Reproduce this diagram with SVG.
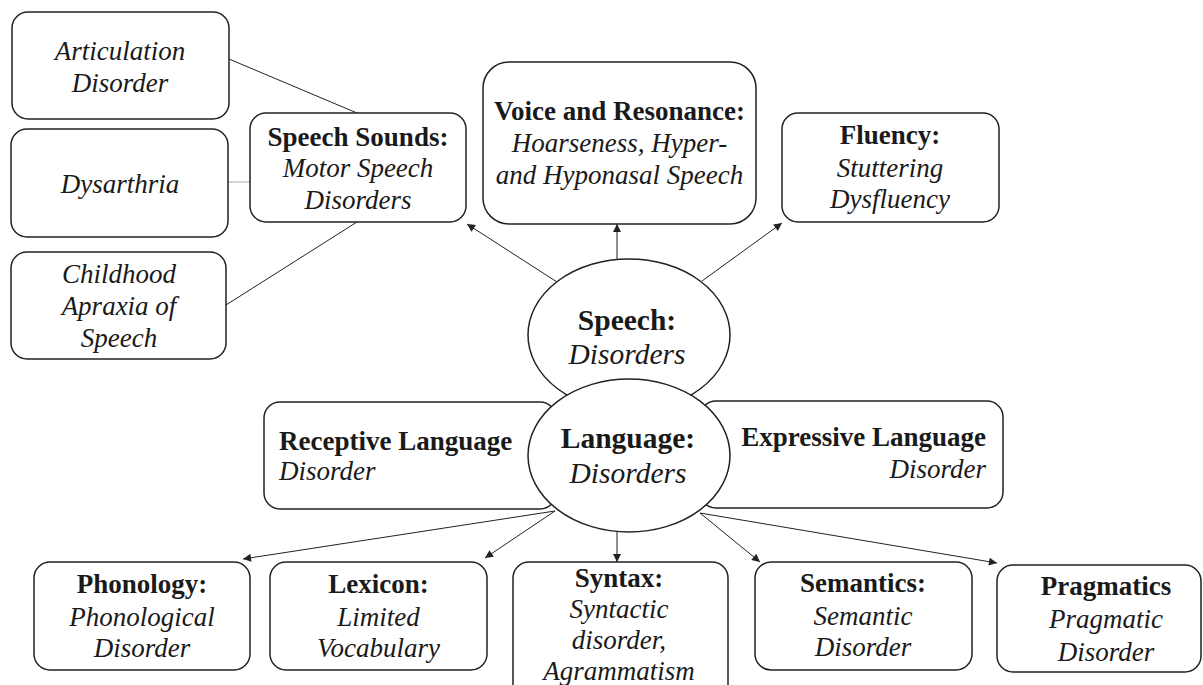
<svg xmlns="http://www.w3.org/2000/svg" width="1203" height="685" viewBox="0 0 1203 685">
<style>
.box{fill:#fff;stroke:#222;stroke-width:1.5}
.ell{fill:#fff;stroke:#222;stroke-width:1.5}
.ln{stroke:#222;stroke-width:1;fill:none}
.arr{stroke:#222;stroke-width:1;fill:none;marker-end:url(#ah)}
text{font-family:"Liberation Serif","Times New Roman",serif;font-size:27px;fill:#1a1a1a}
.b{font-weight:bold}
.i{font-style:italic}
.big{font-size:29.5px}
.c{text-anchor:middle}
.r{text-anchor:end}
</style>
<defs>
<marker id="ah" viewBox="0 0 10 10" refX="10" refY="5" markerWidth="10" markerHeight="8" markerUnits="userSpaceOnUse" orient="auto">
<path d="M0,0 L10,5 L0,10 z" fill="#222"/>
</marker>
</defs>
<rect width="1203" height="685" fill="#fff"/>
<g id="connectors">
<line class="ln" x1="229" y1="59" x2="357" y2="113"/>
<line x1="228" y1="182" x2="250" y2="182" stroke="#aaa" stroke-width="1"/>
<line class="ln" x1="226" y1="305" x2="357" y2="222"/>
<line class="arr" x1="557" y1="282" x2="467" y2="224"/>
<line class="arr" x1="617" y1="259" x2="617" y2="224"/>
<line class="arr" x1="702" y1="281" x2="782" y2="223"/>
<line class="arr" x1="555" y1="511" x2="243" y2="559"/>
<line class="arr" x1="555" y1="511" x2="485" y2="558"/>
<line class="arr" x1="617" y1="531" x2="617" y2="562"/>
<line class="arr" x1="700" y1="513" x2="760" y2="562"/>
<line class="arr" x1="700" y1="513" x2="997" y2="563"/>
</g>
<g id="articulation">
<rect class="box" x="12" y="12" width="217" height="107" rx="16"/>
<text class="i c" x="120" y="60">Articulation</text>
<text class="i c" x="120" y="92">Disorder</text>
</g>
<g id="dysarthria">
<rect class="box" x="11" y="129" width="217" height="108" rx="16"/>
<text class="i c" x="120" y="193">Dysarthria</text>
</g>
<g id="childhood">
<rect class="box" x="11" y="252" width="215" height="107" rx="16"/>
<text class="i c" x="119" y="283">Childhood</text>
<text class="i c" x="119" y="315">Apraxia of</text>
<text class="i c" x="119" y="347">Speech</text>
</g>
<g id="speech-sounds">
<rect class="box" x="250" y="113" width="216" height="109" rx="16"/>
<text class="b c" x="358" y="146">Speech Sounds:</text>
<text class="i c" x="358" y="177">Motor Speech</text>
<text class="i c" x="358" y="209">Disorders</text>
</g>
<g id="voice">
<rect class="box" x="483" y="62" width="273" height="162" rx="26"/>
<text class="b c" x="619.5" y="120">Voice and Resonance:</text>
<text class="i c" x="619.5" y="152">Hoarseness, Hyper-</text>
<text class="i c" x="619.5" y="184">and Hyponasal Speech</text>
</g>
<g id="fluency">
<rect class="box" x="782" y="113" width="217" height="109" rx="16"/>
<text class="b c" x="890" y="144">Fluency:</text>
<text class="i c" x="890" y="177">Stuttering</text>
<text class="i c" x="890" y="208">Dysfluency</text>
</g>
<g id="receptive">
<rect class="box" x="264" y="402" width="292" height="107" rx="16"/>
<text class="b" x="279" y="450">Receptive Language</text>
<text class="i" x="279" y="480">Disorder</text>
</g>
<g id="expressive">
<rect class="box" x="700" y="401" width="303" height="107" rx="16"/>
<text class="b r" x="986" y="446">Expressive Language</text>
<text class="i r" x="986" y="478">Disorder</text>
</g>
<g id="speech">
<ellipse class="ell" cx="629" cy="335" rx="101" ry="76"/>
<text class="b c big" x="627" y="330">Speech:</text>
<text class="i c big" x="627" y="364">Disorders</text>
</g>
<g id="language">
<ellipse class="ell" cx="629" cy="455.5" rx="101" ry="76.5"/>
<text class="b c big" x="628" y="448">Language:</text>
<text class="i c big" x="628" y="483">Disorders</text>
</g>
<g id="phonology">
<rect class="box" x="34" y="562" width="216" height="108" rx="16"/>
<text class="b c" x="142" y="593">Phonology:</text>
<text class="i c" x="142" y="626">Phonological</text>
<text class="i c" x="142" y="657">Disorder</text>
</g>
<g id="lexicon">
<rect class="box" x="270" y="562" width="217" height="108" rx="16"/>
<text class="b c" x="378.5" y="593">Lexicon:</text>
<text class="i c" x="378.5" y="626">Limited</text>
<text class="i c" x="378.5" y="657">Vocabulary</text>
</g>
<g id="syntax">
<rect class="box" x="513" y="562" width="215" height="140" rx="16"/>
<text class="b c" x="619" y="587">Syntax:</text>
<text class="i c" x="619" y="618">Syntactic</text>
<text class="i c" x="619" y="649">disorder,</text>
<text class="i c" x="619" y="680">Agrammatism</text>
</g>
<g id="semantics">
<rect class="box" x="755" y="562" width="217" height="108" rx="16"/>
<text class="b c" x="863" y="592">Semantics:</text>
<text class="i c" x="863" y="625">Semantic</text>
<text class="i c" x="863" y="656">Disorder</text>
</g>
<g id="pragmatics">
<rect class="box" x="997" y="565" width="204" height="107" rx="16"/>
<text class="b c" x="1106" y="595">Pragmatics</text>
<text class="i c" x="1106" y="628">Pragmatic</text>
<text class="i c" x="1106" y="661">Disorder</text>
</g>
</svg>
